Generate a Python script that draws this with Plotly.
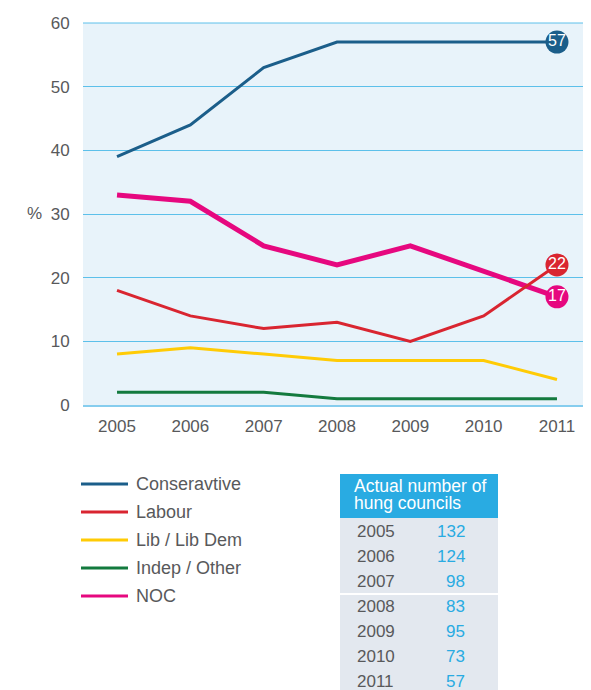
import plotly.graph_objects as go

# the page body adds an 8px offset, so the figure is sized to fill the rest
OFF = 8
W, H = 591 - OFF, 690 - OFF

years = [2005, 2006, 2007, 2008, 2009, 2010, 2011]
conservative = [39, 44, 53, 57, 57, 57, 57]
labour = [18, 14, 12, 13, 10, 14, 22]
lib_dem = [8, 9, 8, 7, 7, 7, 4]
indep = [2, 2, 2, 1, 1, 1, 1]
noc = [33, 32, 25, 22, 25, 21, 17]

series_names = ["Conseravtive", "Labour", "Lib / Lib Dem", "Indep / Other", "NOC"]
series_values = [conservative, labour, lib_dem, indep, noc]
series_colors = ["#1b5e8a", "#d92530", "#ffcb05", "#137a3e", "#e6087f"]
series_widths = [3, 3, 3, 3, 5]
end_labels = [True, True, False, False, True]

table_title = ["Actual number of", "hung councils"]
hung_councils = [132, 124, 98, 83, 95, 73, 57]

FONT = "Liberation Sans, Arial, sans-serif"
GREY = "#58595b"
CYAN = "#29abe2"


# screen pixel -> paper fraction
def px(x):
    return (x - OFF) / W


def py(y):
    return 1 - (y - OFF) / H


fig = go.Figure()

# lines (draw NOC early so labour sits on top where they cross)
order = [0, 4, 1, 2, 3]
for i in order:
    fig.add_trace(go.Scatter(
        x=years, y=series_values[i], mode="lines",
        line=dict(color=series_colors[i], width=series_widths[i]),
        showlegend=False, hoverinfo="skip",
    ))

# end-of-line value bubbles
for i in order:
    if not end_labels[i]:
        continue
    fig.add_trace(go.Scatter(
        x=[years[-1]], y=[series_values[i][-1]], mode="markers+text",
        marker=dict(size=23, color=series_colors[i], line=dict(width=0)),
        text=[str(series_values[i][-1])], textposition="middle center",
        textfont=dict(color="white", size=16, family=FONT),
        showlegend=False, hoverinfo="skip", cliponaxis=False,
    ))

# custom legend
leg_y0, leg_step = 484, 28
for k, name in enumerate(series_names):
    y = leg_y0 + k * leg_step
    fig.add_shape(type="line", xref="paper", yref="paper",
                  x0=px(81), x1=px(128), y0=py(y), y1=py(y),
                  line=dict(color=series_colors[k], width=3))
    fig.add_annotation(xref="paper", yref="paper", x=px(134), y=py(y),
                       xanchor="left", yanchor="middle", showarrow=False,
                       text=name, font=dict(size=18, color=GREY, family=FONT))

# table of hung councils
tx0, tx1 = 340, 498
fig.add_shape(type="rect", xref="paper", yref="paper", layer="below",
              x0=px(tx0), x1=px(tx1), y0=py(474), y1=py(518),
              fillcolor=CYAN, line=dict(width=0))
fig.add_shape(type="rect", xref="paper", yref="paper", layer="below",
              x0=px(tx0), x1=px(tx1), y0=py(518), y1=py(700),
              fillcolor="#e3e8ef", line=dict(width=0))
fig.add_shape(type="line", xref="paper", yref="paper",
              x0=px(tx0), x1=px(tx1), y0=py(594), y1=py(594),
              line=dict(color="white", width=2))
for k, t in enumerate(table_title):
    fig.add_annotation(xref="paper", yref="paper", x=px(352), y=py(486 + k * 17),
                       xanchor="left", yanchor="middle", showarrow=False,
                       text=t, font=dict(size=17.5, color="white", family=FONT))
row_y0, row_step = 531, 25
for k, (yr, n) in enumerate(zip(years, hung_councils)):
    y = row_y0 + k * row_step
    fig.add_annotation(xref="paper", yref="paper", x=px(355), y=py(y),
                       xanchor="left", yanchor="middle", showarrow=False,
                       text=str(yr), font=dict(size=17, color=GREY, family=FONT))
    fig.add_annotation(xref="paper", yref="paper", x=px(467), y=py(y),
                       xanchor="right", yanchor="middle", showarrow=False,
                       text=str(n), font=dict(size=17, color=CYAN, family=FONT))

# "%" axis label
fig.add_annotation(xref="paper", yref="paper", x=px(34), y=py(214),
                   xanchor="center", yanchor="middle", showarrow=False,
                   text="%", font=dict(size=17, color=GREY, family=FONT))

grid = "#5cc0ea"
fig.update_layout(
    width=W, height=H,
    margin=dict(l=0, r=0, t=0, b=0, autoexpand=False),
    paper_bgcolor="white",
    plot_bgcolor="#e8f3fa",
    showlegend=False,
    font=dict(family=FONT, color=GREY, size=17),
    xaxis=dict(
        domain=[px(83), 1],
        range=[2004.536, 2011.464],
        tickvals=years, ticktext=[str(y) for y in years],
        showgrid=False, zeroline=False,
        showline=True, linecolor="#86cdee", linewidth=2,
        ticks="outside", ticklen=5, tickcolor="rgba(0,0,0,0)",
        tickfont=dict(size=17, color=GREY),
        fixedrange=True,
    ),
    yaxis=dict(
        domain=[py(405), py(23)],
        range=[0, 60],
        tickvals=[0, 10, 20, 30, 40, 50, 60],
        showgrid=True, gridcolor=grid, gridwidth=1,
        zeroline=False,
        showline=False,
        ticks="outside", ticklen=9, tickcolor="rgba(0,0,0,0)",
        tickfont=dict(size=17, color=GREY),
        fixedrange=True,
    ),
)
fig.add_shape(type="line", xref="paper", yref="paper",
              x0=px(83), x1=1, y0=py(23), y1=py(23),
              line=dict(color=grid, width=1))

fig.write_html("out.html")
